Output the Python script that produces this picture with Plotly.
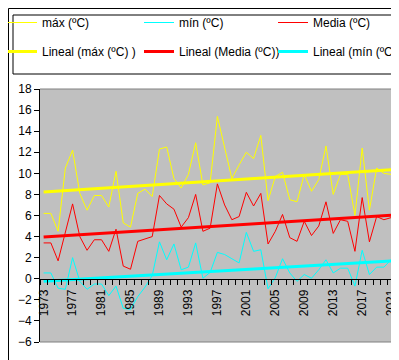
import numpy as np
import plotly.graph_objects as go

years = list(range(1973, 2023))
tmax = [6.2, 6.2, 4.5, 10.5, 12.2, 8.1, 6.5, 7.9, 7.9, 6.8,
        10.2, 5.3, 4.9, 8.1, 8.5, 7.8, 12.3, 12.5, 9.5, 8.6,
        9.9, 12.9, 8.9, 9.1, 15.4, 12.5, 9.5, 10.8, 12.0, 11.4,
        13.6, 7.4, 9.7, 10.1, 7.5, 7.3, 9.9, 8.3, 9.4, 12.6,
        8.0, 9.9, 9.9, 6.0, 12.4, 6.5, 10.5, 10.0, 9.9, 9.6]
tmin = [0.55, 0.55, -0.9, -1.0, 2.0, -0.25, -1.0, -0.5, -0.5, -1.6,
        -0.7, -2.8, -2.9, -1.7, -0.8, 0.3, 3.5, 1.8, 3.3, 0.85,
        1.1, 3.4, 0.05, 0.6, 2.5, 2.3, 1.9, 1.5, 4.4, 2.6,
        2.75, -0.95, 0.1, 1.9, 0.55, -0.25, 0.4, 0.05, 0.85, 1.8,
        0.55, 1.0, 1.0, -0.7, 2.7, 0.4, 1.1, 1.1, 1.8, 2.75]
tmed = [3.4, 3.4, 1.7, 4.3, 7.1, 4.0, 2.7, 3.7, 3.7, 2.6,
        4.7, 1.2, 0.9, 3.55, 3.8, 4.0, 7.9, 7.1, 6.6, 4.9,
        5.8, 8.0, 4.5, 4.8, 9.0, 7.0, 5.6, 5.9, 8.2, 6.9,
        8.1, 3.3, 4.5, 6.1, 3.9, 3.55, 5.45, 4.1, 5.0, 7.3,
        4.3, 5.6, 5.45, 2.6, 7.7, 3.5, 5.9, 5.6, 5.8, 6.2]
tick_years = list(range(1973, 2023, 4))
yticks = list(range(-6, 19, 2))

names = ["máx (ºC)", "mín (ºC)", "Media (ºC)",
         "Lineal (máx (ºC) )", "Lineal (Media (ºC))", "Lineal (mín (ºC))"]

YEL, CYA, RED = "#FFFF00", "#00FFFF", "#FF0000"
x = np.array(years, dtype=float)


def trend(vals):
    a, b = np.polyfit(x, np.array(vals), 1)
    return a * x + b


fig = go.Figure()
fig.add_trace(go.Scatter(x=years, y=tmax, mode="lines", name=names[0],
                         line=dict(color=YEL, width=1), legend="legend", legendgroup="a"))
fig.add_trace(go.Scatter(x=years, y=trend(tmax), mode="lines", name=names[3],
                         line=dict(color=YEL, width=3), legend="legend", legendgroup="b"))
fig.add_trace(go.Scatter(x=years, y=tmin, mode="lines", name=names[1],
                         line=dict(color=CYA, width=1), legend="legend2", legendgroup="c"))
fig.add_trace(go.Scatter(x=years, y=trend(tmed), mode="lines", name=names[4],
                         line=dict(color=RED, width=3), legend="legend2", legendgroup="d"))
fig.add_trace(go.Scatter(x=years, y=tmed, mode="lines", name=names[2],
                         line=dict(color=RED, width=1), legend="legend3", legendgroup="e"))
fig.add_trace(go.Scatter(x=years, y=trend(tmin), mode="lines", name=names[5],
                         line=dict(color=CYA, width=3), legend="legend3", legendgroup="f"))

W, H = 399, 360
ml, mr, mt, mb = 32, 5, 81, 26
pw, ph = W - ml - mr, H - mt - mb


def px(p):
    return (p - ml) / pw


def py(p):
    return (H - mb - p) / ph


FONT = "Arial, Liberation Sans, sans-serif"
leg = dict(orientation="v", xanchor="left", yanchor="top", bgcolor="rgba(0,0,0,0)",
           borderwidth=0, font=dict(family=FONT, size=12, color="black"),
           tracegroupgap=10, itemclick=False, itemdoubleclick=False)

fig.update_layout(
    width=W, height=H,
    margin=dict(l=ml, r=mr, t=mt, b=mb, autoexpand=False),
    paper_bgcolor="white", plot_bgcolor="#C0C0C0",
    font=dict(family=FONT, size=12, color="black"),
    legend=dict(leg, x=px(-6), y=py(0)),
    legend2=dict(leg, x=px(131), y=py(0)),
    legend3=dict(leg, x=px(265), y=py(0)),
    xaxis=dict(range=[1972.5, 2022.5], tickmode="array", tickvals=tick_years,
               ticktext=[str(t) for t in tick_years], tickangle=-90, ticks="",
               showline=True, linecolor="black", linewidth=1, showgrid=False,
               zeroline=False, anchor="free", position=6 / 24,
               ticklabelstandoff=5,
               minor=dict(ticks="outside", ticklen=5, tickcolor="black",
                          tick0=1972.5, dtick=1, showgrid=False),
               tickfont=dict(family=FONT, size=12, color="black")),
    yaxis=dict(range=[-6, 18], tickmode="array", tickvals=yticks, ticks="outside",
               ticklen=5, tickcolor="black", showline=True, linecolor="black",
               linewidth=1, showgrid=False, zeroline=False,
               tickfont=dict(family=FONT, size=12, color="black")),
    shapes=[
        dict(type="line", xref="paper", yref="paper", x0=0, x1=1, y0=1, y1=1,
             line=dict(color="#808080", width=1)),
        dict(type="line", xref="paper", yref="paper", x0=1, x1=1, y0=0, y1=1,
             line=dict(color="#808080", width=1)),
        dict(type="line", xref="paper", yref="paper", x0=0, x1=1, y0=0, y1=0,
             line=dict(color="#808080", width=1)),
        dict(type="rect", xref="paper", yref="paper", x0=px(5), x1=px(396),
             y0=py(66), y1=py(7), line=dict(color="black", width=1)),
        dict(type="rect", xref="paper", yref="paper", x0=px(0.5), x1=px(398.5),
             y0=py(359), y1=py(0.5), line=dict(color="black", width=1)),
    ],
)

fig.write_html("out.html")
